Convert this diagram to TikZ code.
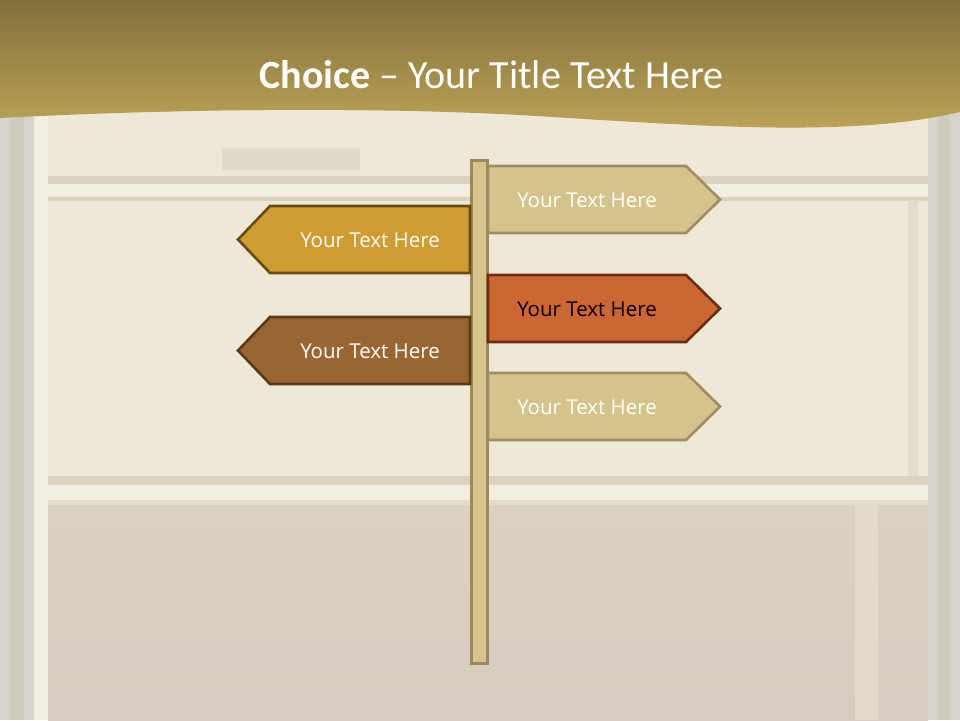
\documentclass[tikz,border=0pt]{standalone}
\usepackage{fontspec}
\setmainfont{Carlito}
\newfontfamily\signfont{Open Sans}
\begin{document}
\begin{tikzpicture}[x=1pt,y=-1pt,
  signtan/.style={fill=tanfill,draw=tanline,line width=2.6pt,line join=miter},
  signgold/.style={fill=goldfill,draw=goldline,line width=2.6pt,line join=miter},
  signorange/.style={fill=orangefill,draw=orangeline,line width=2.6pt,line join=miter},
  signbrown/.style={fill=brownfill,draw=brownline,line width=2.6pt,line join=miter},
  signtext/.style={font=\signfont\fontsize{20.5}{24}\selectfont,text=white,anchor=base,inner sep=0pt},
]
\definecolor{bgbase}{HTML}{EEE8D8}
\definecolor{bglow}{HTML}{DCD0C4}
\definecolor{bglowb}{HTML}{D8CCC2}
\definecolor{bgstrip}{HTML}{D7D4CB}
\definecolor{bgstripd}{HTML}{CFCBC1}
\definecolor{bgband}{HTML}{DBD3C2}
\definecolor{bglight}{HTML}{F2EEE2}
\definecolor{headtop}{HTML}{81703A}
\definecolor{headbot}{HTML}{C0A659}
\definecolor{postfill}{HTML}{D5C58C}
\definecolor{postline}{HTML}{9A8A5C}
\definecolor{tanfill}{HTML}{D4C48C}
\definecolor{tanline}{HTML}{9E8E62}
\definecolor{goldfill}{HTML}{CF9B33}
\definecolor{goldline}{HTML}{6B4A14}
\definecolor{orangefill}{HTML}{CC6633}
\definecolor{orangeline}{HTML}{6A2E10}
\definecolor{brownfill}{HTML}{996633}
\definecolor{brownline}{HTML}{5C3A18}

\useasboundingbox (0,0) rectangle (960,720);
% background texture approximation
\fill[bgbase] (0,0) rectangle (960,720);
\shade[top color=bglow,bottom color=bglowb] (48,505) rectangle (928,720);
\fill[bgstrip] (0,100) rectangle (34,720);
\fill[bgstripd] (10,100) rectangle (24,720);
\fill[bglight] (34,100) rectangle (48,720);
\fill[bgstrip] (928,100) rectangle (960,720);
\fill[bgstripd] (938,100) rectangle (950,720);
\fill[bgband] (48,176) rectangle (928,184);
\fill[bglight] (48,184) rectangle (928,197);
\fill[bgband] (48,197) rectangle (928,201);
\fill[bgband] (48,476) rectangle (928,485);
\fill[bglight] (48,485) rectangle (928,500);
\fill[bgband!60!bgbase] (48,500) rectangle (928,505);
\fill[bgband!70!bgbase] (222,148) rectangle (360,170);
\fill[bgband!60!bgbase] (908,200) rectangle (918,476);
\fill[bglow!60!bgbase] (855,505) rectangle (878,720);

% header
\shade[top color=headtop,bottom color=headbot]
  (0,0) -- (960,0) -- (960,112)
  .. controls (850,138) and (700,126) .. (520,115)
  .. controls (350,106) and (150,110) .. (0,118) -- cycle;
\node[anchor=base,text=white,inner sep=0pt,font=\fontsize{40}{48}\selectfont] (title) at (491.5,88)
  {\textbf{Choice} -- Your Title Text Here};

% post
\draw[fill=postfill,draw=postline,line width=2.6pt] (471.5,160.5) rectangle (487.5,663.5);
\node[inner sep=0pt,minimum width=16pt,minimum height=503pt] (post) at (479.5,412) {};

% signs
\draw[signtan] (488,166) -- (686,166) -- (720,199.5) -- (686,233) -- (488,233) -- cycle;
\node[signtext] (s1) at (587,207) {Your Text Here};

\draw[signgold] (470,206) -- (270,206) -- (238,239.5) -- (270,273) -- (470,273) -- cycle;
\node[signtext] (s2) at (370,247) {Your Text Here};

\draw[signorange] (488,275) -- (686,275) -- (720,308.5) -- (686,342) -- (488,342) -- cycle;
\node[signtext,text=black] (s3) at (587,316) {Your Text Here};

\draw[signbrown] (470,317) -- (270,317) -- (238,350.5) -- (270,384) -- (470,384) -- cycle;
\node[signtext] (s4) at (370,358) {Your Text Here};

\draw[signtan] (488,373) -- (686,373) -- (720,406.5) -- (686,440) -- (488,440) -- cycle;
\node[signtext] (s5) at (587,414) {Your Text Here};
\end{tikzpicture}
\end{document}
